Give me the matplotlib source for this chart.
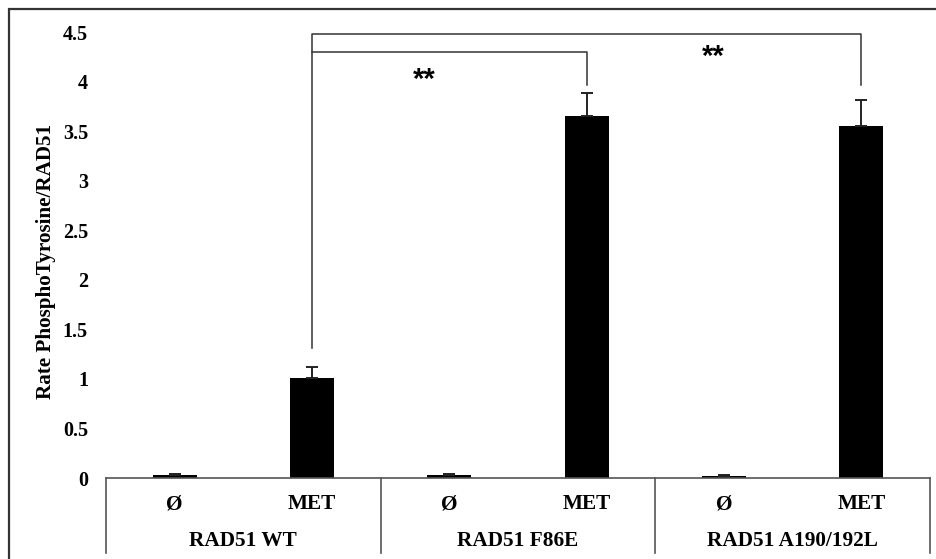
import matplotlib
matplotlib.use("Agg")
import matplotlib.pyplot as plt
from matplotlib.patches import Rectangle
from matplotlib.transforms import blended_transform_factory

# data
conditions = ['Ø', 'MET', 'Ø', 'MET', 'Ø', 'MET']
groups = ['RAD51 WT', 'RAD51 F86E', 'RAD51 A190/192L']
values = [0.03, 1.01, 0.03, 3.65, 0.02, 3.55]
errors = [0.01, 0.11, 0.01, 0.23, 0.01, 0.26]

plt.rcParams['font.family'] = ['Liberation Serif', 'DejaVu Serif']
plt.rcParams['font.weight'] = 'bold'

fig = plt.figure(figsize=(9.37, 5.59), dpi=100)
W, H = 937, 559
ax = fig.add_axes([106 / W, (H - 478) / H, (930 - 106) / W, (478 - 32) / H])

x = list(range(len(values)))
ax.bar(x, values, 0.32, color='black', zorder=2)
ax.errorbar(x, values, yerr=[[0] * len(errors), errors], fmt='none',
            ecolor='#222222', elinewidth=1.4, capsize=4.3, capthick=1.4, zorder=3)

ax.set_xlim(-0.5, 5.5)
ax.set_ylim(0, 4.5)
ax.set_yticks([0, 0.5, 1, 1.5, 2, 2.5, 3, 3.5, 4, 4.5])
ax.set_yticklabels(['0', '0.5', '1', '1.5', '2', '2.5', '3', '3.5', '4', '4.5'],
                   fontsize=14.5, fontweight='bold')
ax.tick_params(axis='y', length=0, pad=13)
ax.set_xticks([])
for s in ['left', 'top', 'right']:
    ax.spines[s].set_visible(False)
ax.spines['bottom'].set_color('#555555')
ax.spines['bottom'].set_linewidth(1.2)

fig.text(46 / W, (H - 261) / H, 'Rate PhosphoTyrosine/RAD51', rotation=90,
         ha='center', va='center', fontsize=15.2, fontweight='bold')

# category table below the axis
trans = blended_transform_factory(ax.transData, ax.transAxes)
bottom = -(553 - 478) / 446
for sep in [-0.5, 1.5, 3.5, 5.5]:
    ax.plot([sep, sep], [0, bottom], color='#555555', lw=1.2, transform=trans,
            clip_on=False)
for i, c in enumerate(conditions):
    ax.text(i, -(504 - 478) / 446, c, transform=trans, ha='center', va='center',
            fontsize=15.3, fontweight='bold')
for g, name in enumerate(groups):
    ax.text(2 * g + 0.5, -(541 - 478) / 446, name, transform=trans, ha='center',
            va='center', fontsize=15.3, fontweight='bold')

# significance brackets
bc = '#333333'
ax.plot([1, 1, 5, 5], [1.31, 4.48, 4.48, 3.97], color=bc, lw=1.1, clip_on=False)
ax.plot([1, 3, 3], [4.30, 4.30, 3.97], color=bc, lw=1.1, clip_on=False)
ax.text(1.82, 4.02, '**', ha='center', va='center', fontsize=21,
        family='Liberation Sans', fontweight='bold')
ax.text(3.92, 4.25, '**', ha='center', va='center', fontsize=21,
        family='Liberation Sans', fontweight='bold')

# outer frame (cropped on the right and bottom)
fig.add_artist(Rectangle((9 / W, -0.2), 1.5, (H - 9) / H + 0.2, transform=fig.transFigure,
                         fill=False, edgecolor='#333333', lw=1.6))

fig.savefig('out.png', dpi=100)
